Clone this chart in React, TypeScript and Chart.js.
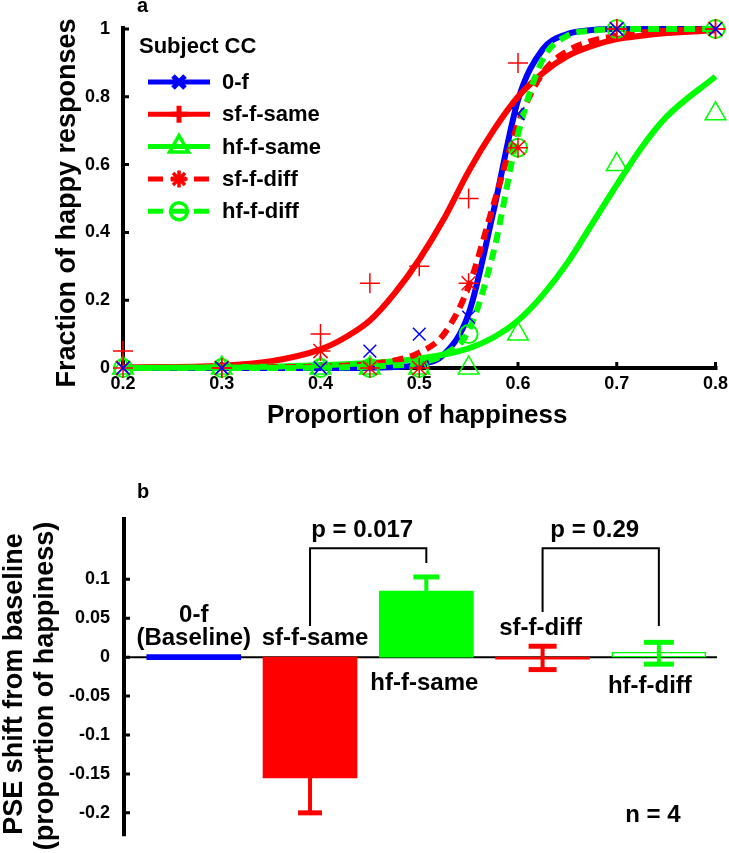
import React, { useEffect, useRef } from 'react';
import { Chart, registerables } from 'chart.js';

Chart.register(...registerables);

const FONT = '"Liberation Sans", Arial, Helvetica, sans-serif';
const BLUE = '#0000ff';
const RED = '#ff0000';
const GREEN = '#00ff00';

// ---------------- Panel a : psychometric data ----------------
const stimLevels = [0.2, 0.3, 0.4, 0.45, 0.5, 0.55, 0.6, 0.7, 0.8];
const respZeroF = [0, 0, 0, 0.05, 0.1, 0.15, 0.75, 1, 1];
const respSfSame = [0.05, 0, 0.1, 0.25, 0.3, 0.5, 0.9, 1, 1];
const respHfSame = [0, 0, 0, 0, 0, 0, 0.1, 0.6, 0.75];
const respSfDiff = [0, 0, 0.05, 0, 0, 0.25, 0.65, 1, 1];
const respHfDiff = [0, 0, 0, 0, 0, 0.1, 0.65, 1, 1];

// fitted curves
const fitLevels = [0.2, 0.3, 0.35, 0.4, 0.425, 0.45, 0.475, 0.5, 0.525, 0.55, 0.575, 0.6, 0.625, 0.65, 0.675, 0.7, 0.725, 0.75, 0.8];
const fitZeroF = [0, 0, 0, 0, 0, 0.001, 0.003, 0.01, 0.04, 0.16, 0.46, 0.79, 0.94, 0.985, 0.997, 1, 1, 1, 1];
const fitSfSame = [0.002, 0.007, 0.02, 0.055, 0.09, 0.14, 0.22, 0.32, 0.44, 0.58, 0.7, 0.8, 0.87, 0.92, 0.95, 0.97, 0.98, 0.988, 0.996];
const fitHfSame = [0, 0.002, 0.004, 0.008, 0.011, 0.015, 0.02, 0.028, 0.04, 0.058, 0.09, 0.14, 0.215, 0.31, 0.425, 0.54, 0.65, 0.74, 0.86];
const fitSfDiff = [0, 0.001, 0.002, 0.004, 0.007, 0.012, 0.022, 0.045, 0.1, 0.24, 0.48, 0.72, 0.87, 0.935, 0.965, 0.98, 0.99, 0.995, 1];
const fitHfDiff = [0, 0, 0, 0.001, 0.002, 0.004, 0.008, 0.015, 0.04, 0.11, 0.34, 0.69, 0.91, 0.98, 0.995, 1, 1, 1, 1];

const seriesNames = ['0-f', 'sf-f-same', 'hf-f-same', 'sf-f-diff', 'hf-f-diff'];
const seriesResp = [respZeroF, respSfSame, respHfSame, respSfDiff, respHfDiff];
const seriesFit = [fitZeroF, fitSfSame, fitHfSame, fitSfDiff, fitHfDiff];

const xTicksA = [0.2, 0.3, 0.4, 0.5, 0.6, 0.7, 0.8];
const yTicksA = [0, 0.2, 0.4, 0.6, 0.8, 1];

// styles for panel a
const seriesColor = [BLUE, RED, GREEN, RED, GREEN];
const seriesDash = [[], [], [], [11, 7], [11, 7]];
const seriesMarker = ['crossRot', 'cross', 'triangle', 'star', 'circle'];
const seriesMarkerR = [9, 10, 12, 10, 9];
const seriesFitOrder = [5, 4, 3, 2, 1];

// ---------------- Panel b : PSE shift ----------------
const conditions = ['0-f', 'sf-f-same', 'hf-f-same', 'sf-f-diff', 'hf-f-diff'];
const pseShift = [0, -0.155, 0.085, -0.001, 0.005];
const pseSem = [0, 0.045, 0.018, 0.015, 0.014];
const yTicksB = [-0.2, -0.15, -0.1, -0.05, 0, 0.05, 0.1];
const compPairs = [
  [1, 2],
  [3, 4],
];
const compP = ['p = 0.017', 'p = 0.29'];

// styles for panel b
const barFill = [BLUE, RED, GREEN, RED, '#ffffff'];
const barEdge = [BLUE, RED, GREEN, RED, GREEN];
const barEdgeW = [0, 0, 0, 0, 1.5];
const barMinLen = [5, 0, 0, 2, 5];
const errCapHalf = [0, 12, 13, 14, 15];
const barLabelLines = [['0-f', '(Baseline)'], ['sf-f-same'], ['hf-f-same'], ['sf-f-diff'], ['hf-f-diff']];
const barLabelDx = [0, 5, -2, -2, -9];
const barLabelDy = [[-35, -12], [-12], [33], [-22], [36]];
const bracketTop = 0.14;
const bracketLegs = [
  [0.04, 0.121],
  [0.058, 0.04],
];

const fmt = (v: number) => String(Math.round(v * 100) / 100);
const bold = (size: number) => `bold ${size}px ${FONT}`;

function drawMarker(ctx: CanvasRenderingContext2D, style: string, cx: number, cy: number, r: number, lw: number, color: string) {
  ctx.save();
  ctx.strokeStyle = color;
  ctx.lineWidth = lw;
  ctx.setLineDash([]);
  ctx.beginPath();
  const d = r * 0.7071;
  if (style === 'crossRot' || style === 'star') {
    ctx.moveTo(cx - d, cy - d); ctx.lineTo(cx + d, cy + d);
    ctx.moveTo(cx - d, cy + d); ctx.lineTo(cx + d, cy - d);
  }
  if (style === 'cross' || style === 'star') {
    ctx.moveTo(cx - r, cy); ctx.lineTo(cx + r, cy);
    ctx.moveTo(cx, cy - r); ctx.lineTo(cx, cy + r);
  }
  if (style === 'triangle') {
    ctx.moveTo(cx, cy - r);
    ctx.lineTo(cx + r * 0.866, cy + r * 0.5);
    ctx.lineTo(cx - r * 0.866, cy + r * 0.5);
    ctx.closePath();
  }
  if (style === 'circle') {
    ctx.arc(cx, cy, r, 0, Math.PI * 2);
  }
  ctx.stroke();
  ctx.restore();
}

function drawText(ctx: CanvasRenderingContext2D, text: string, x: number, y: number, size: number, align: CanvasTextAlign = 'center', rotate = false) {
  ctx.save();
  ctx.font = bold(size);
  ctx.fillStyle = '#000';
  ctx.textAlign = align;
  ctx.textBaseline = 'alphabetic';
  ctx.translate(x, y);
  if (rotate) ctx.rotate(-Math.PI / 2);
  ctx.fillText(text, 0, 0);
  ctx.restore();
}

const panelAPlugin = {
  id: 'panelA',
  beforeDatasetsDraw(chart: any) {
    const { ctx, chartArea: ca, scales } = chart;
    const x = scales.x;
    const y = scales.y;
    const y0 = y.getPixelForValue(0);
    ctx.save();
    ctx.strokeStyle = '#000';
    ctx.lineWidth = 4;
    ctx.beginPath();
    ctx.moveTo(ca.left, y.getPixelForValue(1) - 3);
    ctx.lineTo(ca.left, y0 + 2);
    ctx.moveTo(ca.left - 2, y0);
    ctx.lineTo(ca.right + 2, y0);
    ctx.stroke();
    ctx.lineWidth = 3;
    ctx.beginPath();
    xTicksA.forEach((v) => {
      const px = x.getPixelForValue(v);
      ctx.moveTo(px, y0);
      ctx.lineTo(px, y0 - 6);
    });
    yTicksA.forEach((v) => {
      const py = y.getPixelForValue(v);
      ctx.moveTo(ca.left, py);
      ctx.lineTo(ca.left + 6, py);
    });
    ctx.stroke();
    ctx.restore();
  },
  afterDraw(chart: any) {
    const { ctx, chartArea: ca } = chart;
    drawText(ctx, 'a', 137, 12, 20, 'left');
    drawText(ctx, 'Proportion of happiness', (ca.left + ca.right) / 2 - 2, 423, 26);
    drawText(ctx, 'Fraction of happy responses', 75, 203, 27, 'center', true);
    // legend
    drawText(ctx, 'Subject CC', 139, 53, 22, 'left');
    seriesNames.forEach((name, i) => {
      const cy = 82 + i * 32.3;
      ctx.save();
      ctx.strokeStyle = seriesColor[i];
      ctx.lineWidth = 5;
      ctx.setLineDash(seriesDash[i].length ? [15, 8] : []);
      ctx.beginPath();
      ctx.moveTo(148, cy);
      ctx.lineTo(210, cy);
      ctx.stroke();
      ctx.restore();
      const lw = seriesMarker[i] === 'cross' ? 5 : seriesMarker[i] === 'crossRot' ? 5 : 3.5;
      drawMarker(ctx, seriesMarker[i], 179, cy, seriesMarker[i] === 'triangle' ? 11 : 8.5, lw, seriesColor[i]);
      ctx.save();
      ctx.font = bold(22);
      ctx.fillStyle = '#000';
      ctx.textAlign = 'left';
      ctx.textBaseline = 'middle';
      ctx.fillText(name, 222, cy + 1);
      ctx.restore();
    });
  },
};

const panelBPlugin = {
  id: 'panelB',
  beforeDatasetsDraw(chart: any) {
    const { ctx, chartArea: ca, scales } = chart;
    const y = scales.y;
    const y0 = y.getPixelForValue(0);
    ctx.save();
    ctx.strokeStyle = '#000';
    ctx.lineWidth = 2;
    ctx.beginPath();
    ctx.moveTo(ca.left, y0);
    ctx.lineTo(ca.right, y0);
    ctx.stroke();
    ctx.lineWidth = 4;
    ctx.beginPath();
    ctx.moveTo(ca.left, ca.top);
    ctx.lineTo(ca.left, ca.bottom);
    ctx.stroke();
    ctx.lineWidth = 3;
    ctx.beginPath();
    yTicksB.forEach((v) => {
      const py = y.getPixelForValue(v);
      ctx.moveTo(ca.left, py);
      ctx.lineTo(ca.left + 6, py);
    });
    ctx.stroke();
    ctx.restore();
  },
  afterDatasetsDraw(chart: any) {
    const { ctx, scales } = chart;
    const x = scales.x;
    const y = scales.y;
    ctx.save();
    pseShift.forEach((v, i) => {
      const e = pseSem[i];
      if (!e) return;
      const px = x.getPixelForValue(i + 1);
      const col = barEdge[i];
      [v + e, v - e].forEach((end) => {
        const inside = v >= 0 ? end >= 0 && end <= v : end <= 0 && end >= v;
        if (inside) return;
        const pe = y.getPixelForValue(end);
        ctx.strokeStyle = col;
        ctx.lineWidth = 4;
        ctx.beginPath();
        ctx.moveTo(px, y.getPixelForValue(v));
        ctx.lineTo(px, pe);
        ctx.stroke();
        ctx.lineWidth = 5;
        ctx.beginPath();
        ctx.moveTo(px - errCapHalf[i], pe);
        ctx.lineTo(px + errCapHalf[i], pe);
        ctx.stroke();
      });
    });
    ctx.restore();
  },
  afterDraw(chart: any) {
    const { ctx, chartArea: ca, scales } = chart;
    const x = scales.x;
    const y = scales.y;
    const y0 = y.getPixelForValue(0);
    drawText(ctx, 'b', 137, 58, 20, 'left');
    drawText(ctx, 'PSE shift from baseline', 22, 244, 27, 'center', true);
    drawText(ctx, '(proportion of happiness)', 53, 246, 27, 'center', true);
    barLabelLines.forEach((lines, i) => {
      const px = x.getPixelForValue(i + 1) + barLabelDx[i];
      lines.forEach((t, j) => drawText(ctx, t, px, y0 + barLabelDy[i][j], 24));
    });
    // significance brackets
    ctx.save();
    ctx.strokeStyle = '#000';
    ctx.lineWidth = 2;
    compPairs.forEach(([a, b], k) => {
      const xa = x.getPixelForValue(a + 1);
      const xb = x.getPixelForValue(b + 1);
      const yt = y.getPixelForValue(bracketTop);
      ctx.beginPath();
      ctx.moveTo(xa, y.getPixelForValue(bracketLegs[k][0]));
      ctx.lineTo(xa, yt);
      ctx.lineTo(xb, yt);
      ctx.lineTo(xb, y.getPixelForValue(bracketLegs[k][1]));
      ctx.stroke();
      drawText(ctx, compP[k], (xa + xb) / 2 - 6, yt - 11, 24);
    });
    ctx.restore();
    drawText(ctx, 'n = 4', x.getPixelForValue(5) - 6, ca.bottom - 14, 24);
  },
};

export default function App() {
  const topRef = useRef<HTMLCanvasElement>(null);
  const botRef = useRef<HTMLCanvasElement>(null);

  useEffect(() => {
    const tickFont = { family: FONT, size: 18, weight: 'bold' as const };

    const fitSets = seriesNames.map((name, i) => ({
      type: 'line' as const,
      label: name + ' fit',
      data: fitLevels.map((xv, k) => ({ x: xv, y: seriesFit[i][k] })),
      borderColor: seriesColor[i],
      borderWidth: 6,
      borderDash: seriesDash[i],
      borderCapStyle: 'butt' as const,
      pointRadius: 0,
      fill: false,
      cubicInterpolationMode: 'monotone' as const,
      order: seriesFitOrder[i],
      clip: false as any,
    }));
    const markerOrder = [0, 1, 3, 2, 4];
    const markerSets = markerOrder.map((i) => ({
      type: 'line' as const,
      label: seriesNames[i],
      data: stimLevels.map((xv, k) => ({ x: xv, y: seriesResp[i][k] })),
      showLine: false,
      pointStyle: seriesMarker[i] as any,
      pointRadius: seriesMarkerR[i],
      pointBorderColor: seriesColor[i],
      pointBackgroundColor: 'rgba(0,0,0,0)',
      pointBorderWidth: seriesMarker[i] === 'circle' ? 2 : 1.5,
      order: 0,
      clip: false as any,
    }));

    const chartA = new Chart(topRef.current as HTMLCanvasElement, {
      type: 'line',
      data: { datasets: [...markerSets, ...fitSets] as any },
      options: {
        animation: false,
        responsive: false,
        devicePixelRatio: 1,
        events: [],
        layout: { padding: { left: 0, top: 29, right: 13, bottom: 0 } },
        plugins: { legend: { display: false }, tooltip: { enabled: false } },
        scales: {
          x: {
            type: 'linear',
            min: 0.2,
            max: 0.8,
            afterBuildTicks: (s: any) => {
              s.ticks = xTicksA.map((v) => ({ value: v }));
            },
            afterFit: (s: any) => {
              s.height = 72;
            },
            grid: { display: false },
            border: { display: false },
            ticks: {
              font: tickFont,
              color: '#000',
              padding: -3,
              maxRotation: 0,
              autoSkip: false,
              callback: (v: any) => fmt(Number(v)),
            },
          },
          y: {
            type: 'linear',
            min: 0,
            max: 1,
            afterBuildTicks: (s: any) => {
              s.ticks = yTicksA.map((v) => ({ value: v }));
            },
            afterFit: (s: any) => {
              s.width = 123;
            },
            grid: { display: false },
            border: { display: false },
            ticks: {
              font: tickFont,
              color: '#000',
              padding: 5,
              autoSkip: false,
              callback: (v: any) => fmt(Number(v)),
            },
          },
        },
      } as any,
      plugins: [panelAPlugin],
    });

    const chartB = new Chart(botRef.current as HTMLCanvasElement, {
      type: 'bar',
      data: {
        datasets: conditions.map((c, i) => ({
          label: c,
          data: [{ x: i + 1, y: pseShift[i] }],
          backgroundColor: barFill[i],
          borderColor: barEdge[i],
          borderWidth: barEdgeW[i],
          borderSkipped: false,
          minBarLength: barMinLen[i],
          barThickness: 94,
          grouped: false,
        })) as any,
      },
      options: {
        animation: false,
        responsive: false,
        devicePixelRatio: 1,
        events: [],
        layout: { padding: { left: 0, top: 77, right: 12, bottom: 11 } },
        plugins: { legend: { display: false }, tooltip: { enabled: false } },
        scales: {
          x: { type: 'linear', min: 0.4, max: 5.5, display: false, offset: false },
          y: {
            type: 'linear',
            min: -0.23,
            max: 0.18,
            afterBuildTicks: (s: any) => {
              s.ticks = yTicksB.map((v) => ({ value: v }));
            },
            afterFit: (s: any) => {
              s.width = 124;
            },
            grid: { display: false },
            border: { display: false },
            ticks: {
              font: tickFont,
              color: '#000',
              padding: 6,
              autoSkip: false,
              callback: (v: any) => fmt(Number(v)),
            },
          },
        },
      } as any,
      plugins: [panelBPlugin],
    });

    return () => {
      chartA.destroy();
      chartB.destroy();
    };
  }, []);

  return (
    <div style={{ position: 'absolute', left: 0, top: 0, width: 729, height: 853, background: '#ffffff' }}>
      <canvas ref={topRef} width={729} height={440} style={{ position: 'absolute', left: 0, top: 0 }} />
      <canvas ref={botRef} width={729} height={413} style={{ position: 'absolute', left: 0, top: 440 }} />
    </div>
  );
}
